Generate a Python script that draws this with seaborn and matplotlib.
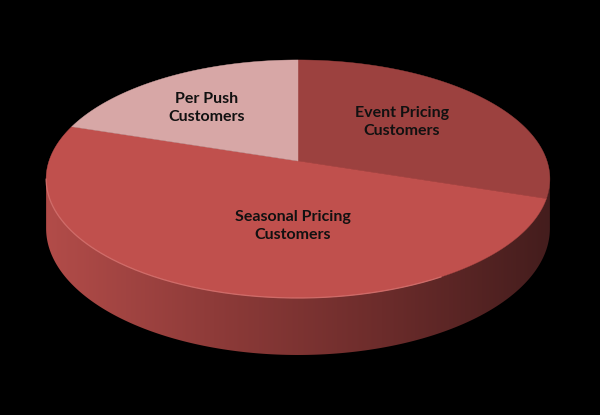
import numpy as np
import matplotlib
matplotlib.use("Agg")
import matplotlib.pyplot as plt
import seaborn as sns
from matplotlib.patches import Polygon

# Chart data (clockwise from 12 o'clock)
labels = ["Event Pricing\nCustomers", "Seasonal Pricing\nCustomers", "Per Push\nCustomers"]
shares = [30, 50, 20]

# Styling
top_colors = ["#9C413F", "#C0504D", "#D7A7A6"]
side_colors = ["#B24C49", "#8E3B39", "#6C2C2B", "#441D1D"]
label_xy = [(402, 122), (293, 226), (207, 108)]

sns.set_theme(style="white")
plt.rcParams["font.family"] = ["Lato", "DejaVu Sans"]

# Perspective view of the disc, in pixel units
cx, cy = 298, 161
rx, ry = 249, 116.3
persp = 0.151
depth = 48.4


def project(theta, h=0.0, r=1.0):
    # theta: clockwise from top, radians; h: drop below the top face
    u = r * np.sin(theta)
    v = r * np.cos(theta)
    w = 1 + persp * v
    return cx + rx * u / w, cy + (-ry * v + h) / w


fig = plt.figure(figsize=(6, 4.15), dpi=100, facecolor="black")
ax = fig.add_axes([0, 0, 1, 1])
ax.set_facecolor("black")
ax.axis("off")

# Side wall (only the front part is visible)
t0 = np.arccos(-persp)
t = np.linspace(t0, 2 * np.pi - t0, 400)
xt, yt = project(t)
xb, yb = project(t[::-1], depth)
side = Polygon(np.column_stack([np.r_[xt, xb], np.r_[yt, yb]]),
               closed=True, facecolor="none", edgecolor="none")
ax.add_patch(side)
cmap = sns.blend_palette(side_colors, n_colors=256, as_cmap=True)
grad = np.linspace(0, 1, 256).reshape(1, -1)
x0, x1 = min(xt.min(), xb.min()), max(xt.max(), xb.max())
y0, y1 = min(yt.min(), yb.min()), max(yt.max(), yb.max())
img = ax.imshow(grad, cmap=cmap, aspect="auto", extent=[x0, x1, y1, y0],
                interpolation="bicubic", zorder=1)
img.set_clip_path(side)
ax.set_xlim(0, 600)
ax.set_ylim(415, 0)

# Top face wedges
bounds = np.cumsum([0] + shares) / sum(shares) * 2 * np.pi
ccx, ccy = project(0.0, r=0.0)
for i, (a, b) in enumerate(zip(bounds[:-1], bounds[1:])):
    th = np.linspace(a, b, 200)
    px, py = project(th)
    poly = np.column_stack([np.r_[ccx, px], np.r_[ccy, py]])
    ax.add_patch(Polygon(poly, closed=True, facecolor=top_colors[i],
                         edgecolor=top_colors[i], lw=0.3, zorder=2))

# light rim on the front edge of the top face
th = np.linspace(np.deg2rad(150), 2 * np.pi - t0, 200)
hx, hy = project(th)
ax.plot(hx, hy, color="#DB7774", lw=0.9, alpha=0.8, zorder=3)

for (x, y), lab in zip(label_xy, labels):
    ax.text(x, y, lab, ha="center", va="center", fontsize=11.5,
            fontweight="bold", color="#111111", linespacing=1.4, zorder=4)

fig.savefig("out.png", dpi=100, facecolor="black")
